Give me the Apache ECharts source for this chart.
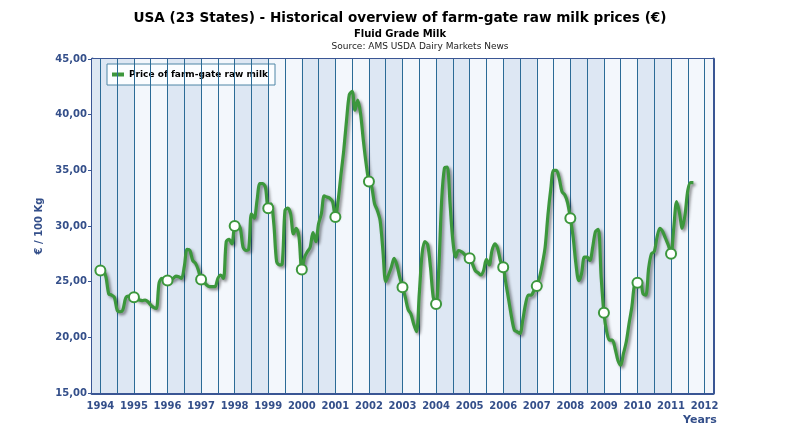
<!DOCTYPE html>
<html><head><meta charset="utf-8">
<script src="https://cdn.jsdelivr.net/npm/echarts@6/dist/echarts.min.js"></script>
<style>html,body{margin:0;padding:0;background:#fff}#c{width:787px;height:433px}</style>
</head><body><div id="c"></div>
<script>
const titleText = 'USA (23 States) - Historical overview of farm-gate raw milk prices (€)';
const subTitleText = 'Fluid Grade Milk';
const sourceText = 'Source: AMS USDA Dairy Markets News';
const seriesName = 'Price of farm-gate raw milk';
const yAxisName = '€ / 100 Kg';
const xAxisName = 'Years';

const years = [1994,1995,1996,1997,1998,1999,2000,2001,2002,2003,2004,2005,2006,2007,2008,2009,2010,2011];
// monthly prices (Jan..Dec) per year, €/100 kg
const monthlyPrices = [
  [26.0, 26.0, 25.4, 23.9, 23.8, 23.6, 22.45, 22.3, 22.45, 23.5, 23.7, 23.65],
  [23.6, 23.5, 23.35, 23.3, 23.35, 23.2, 22.9, 22.7, 22.6, 24.9, 25.3, 25.2],
  [25.1, 25.2, 25.3, 25.5, 25.45, 25.3, 26.35, 27.9, 27.8, 26.9, 26.65, 26.05],
  [25.2, 25.0, 24.7, 24.55, 24.55, 24.55, 25.3, 25.6, 25.3, 28.6, 28.8, 28.4],
  [30.0, 30.1, 29.8, 28.1, 27.8, 27.9, 31.1, 30.7, 32.3, 33.8, 33.8, 33.5],
  [31.6, 32.0, 30.2, 26.8, 26.5, 26.6, 31.4, 31.6, 31.1, 29.3, 29.8, 29.0],
  [26.1, 27.2, 27.7, 28.1, 29.4, 28.6, 30.2, 31.1, 32.7, 32.6, 32.5, 32.2],
  [30.8, 32.3, 34.6, 36.8, 39.5, 41.8, 42.1, 40.4, 41.3, 40.1, 37.7, 35.6],
  [34.0, 33.5, 32.0, 31.4, 30.5, 27.8, 25.0, 25.6, 26.3, 27.1, 26.5, 25.4],
  [24.5, 23.6, 22.5, 22.1, 21.2, 20.5, 23.9, 27.5, 28.6, 28.3, 26.3, 23.6],
  [23.0, 26.3, 32.3, 35.2, 35.3, 32.0, 28.7, 27.2, 27.8, 27.7, 27.5, 27.2],
  [27.1, 26.6, 26.0, 25.8, 25.6, 26.0, 27.0, 26.5, 27.8, 28.4, 28.0, 26.9],
  [26.3, 24.8, 23.3, 21.8, 20.65, 20.5, 20.35, 21.55, 23.0, 23.8, 23.8, 24.2],
  [24.6, 25.4, 26.6, 28.1, 31.0, 33.3, 35.0, 35.0, 34.3, 33.1, 32.8, 32.1],
  [30.7, 29.0, 26.6, 25.1, 25.7, 27.2, 27.2, 26.9, 28.1, 29.5, 29.7, 25.5],
  [22.2, 20.5, 19.75, 19.75, 19.0, 17.95, 17.5, 18.55, 19.6, 21.25, 22.75, 24.8],
  [24.9, 25.1, 23.9, 23.8, 26.2, 27.5, 27.7, 29.0, 29.8, 29.5, 28.9, 28.3],
  [27.5, 29.9, 32.2, 31.2, 29.8, 31.0, 33.2, 33.9, 33.9]
];
const xMin = 1993.75, xMax = 2012.25, xStep = 0.25;
const yMin = 15, yMax = 45, yStep = 5;

const points = [];
years.forEach((y, i) => monthlyPrices[i].forEach((v, m) => {
  points.push({ value: [y + m / 12, v], symbol: m === 0 ? 'circle' : 'none' });
}));

const green = '#3c973c';
const axisBlue = '#3a5694';
const gridBlue = '#2b6b96';
const labelBlue = '#344f8a';
const font = '"DejaVu Sans", Verdana, sans-serif';

// background bands (even years darker)
const bands = [[{ xAxis: xMin }, { xAxis: xMax, itemStyle: { color: '#f3f7fc' } }],
               [{ xAxis: xMin }, { xAxis: years[0] }]];
for (let y = years[0]; y < xMax - 1; y += 2) bands.push([{ xAxis: y }, { xAxis: y + 1 }]);
const vLines = [];
for (let x = years[0]; x <= xMax; x += 0.5) vLines.push({ xAxis: x });

const chart = echarts.init(document.getElementById('c'));
chart.setOption({
  animation: false,
  textStyle: { fontFamily: font },
  graphic: [
    { type: 'text', x: 400, y: 18, style: { text: titleText, textAlign: 'center', textVerticalAlign: 'middle', font: 'bold 13.6px ' + font, fill: '#000' } },
    { type: 'text', x: 400, y: 34, style: { text: subTitleText, textAlign: 'center', textVerticalAlign: 'middle', font: 'bold 10px ' + font, fill: '#000' } },
    { type: 'text', x: 420, y: 47, style: { text: sourceText, textAlign: 'center', textVerticalAlign: 'middle', font: '9px ' + font, fill: '#222' } }
  ],
  legend: {
    left: 107, top: 64,
    data: [{ name: seriesName, icon: 'rect', itemStyle: { color: green, borderWidth: 0, shadowBlur: 0 } }],
    backgroundColor: '#fbfdff', borderColor: '#4f86a6', borderWidth: 1,
    padding: [6, 7, 6, 5], itemWidth: 12, itemHeight: 4, itemGap: 5,
    textStyle: { fontFamily: font, fontWeight: 'bold', fontSize: 9, color: '#000' }
  },
  grid: { left: 92, right: 74, top: 59, bottom: 40, show: false },
  xAxis: [{
    type: 'value', min: xMin, max: xMax, interval: xStep,
    name: xAxisName, nameLocation: 'end', nameGap: -30,
    nameTextStyle: { fontFamily: font, fontWeight: 'bold', fontSize: 11, color: labelBlue, verticalAlign: 'top', padding: [22, 0, 0, 0] },
    axisLine: { lineStyle: { color: axisBlue, width: 3 } },
    axisTick: { show: false },
    splitLine: { show: false },
    axisLabel: { margin: 8, fontFamily: font, fontWeight: 'bold', fontSize: 10, color: labelBlue,
      formatter: v => (Math.abs(v - Math.round(v)) < 1e-6 ? String(Math.round(v)) : '') }
  }, {
    type: 'value', position: 'top', min: xMin, max: xMax,
    axisLine: { show: true, lineStyle: { color: axisBlue, width: 2 } },
    axisTick: { show: false }, axisLabel: { show: false }, splitLine: { show: false }
  }],
  yAxis: [{
    type: 'value', min: yMin, max: yMax, interval: yStep,
    name: yAxisName, nameLocation: 'middle', nameGap: 42,
    nameTextStyle: { fontFamily: font, fontWeight: 'bold', fontSize: 10, color: labelBlue },
    axisLine: { show: true, lineStyle: { color: axisBlue, width: 3 } },
    axisTick: { show: true, length: 4, lineStyle: { color: axisBlue, width: 1 } },
    splitLine: { show: true, lineStyle: { color: gridBlue, width: 1 } },
    axisLabel: { margin: 5, fontFamily: font, fontWeight: 'bold', fontSize: 10, color: labelBlue,
      formatter: v => v.toFixed(2).replace('.', ',') }
  }, {
    type: 'value', position: 'right', min: yMin, max: yMax,
    axisLine: { show: true, lineStyle: { color: axisBlue, width: 3 } },
    axisTick: { show: false }, axisLabel: { show: false }, splitLine: { show: false }
  }],
  series: [
    { name: 'bands', type: 'line', data: [], z: -2, silent: true,
      markArea: { silent: true, itemStyle: { color: '#dde7f3' }, data: bands } },
    { name: 'vlines', type: 'line', data: [], z: -1, silent: true,
      markLine: { silent: true, symbol: ['none', 'none'], label: { show: false },
        lineStyle: { color: gridBlue, width: 1, type: 'solid' }, data: vLines } },
    {
      name: seriesName, type: 'line', data: points, z: 5,
      smooth: 0.3,
      symbolSize: 10,
      lineStyle: { color: green, width: 3.2, shadowColor: 'rgba(0,0,0,0.45)', shadowBlur: 3, shadowOffsetX: 2, shadowOffsetY: 2 },
      itemStyle: { color: '#fff', borderColor: green, borderWidth: 2 }
    }
  ]
});
</script></body></html>
